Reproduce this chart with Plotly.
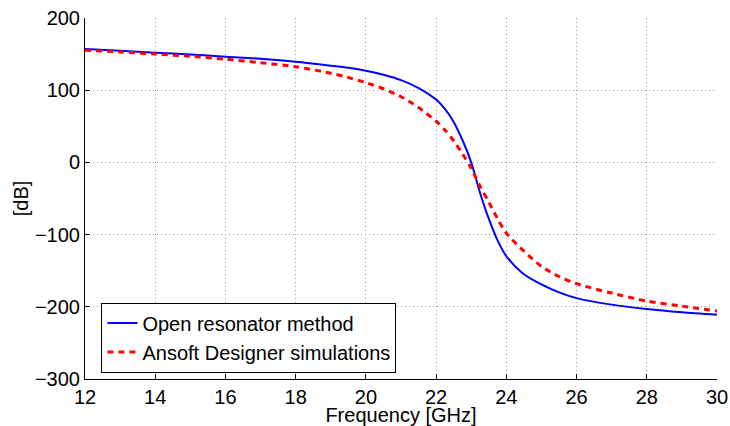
import plotly.graph_objects as go

freq = [12, 13, 14, 15, 16, 17, 18, 19, 19.5, 20, 20.5, 21, 21.5, 22, 22.25, 22.5,
        22.75, 23, 23.25, 23.5, 23.75, 24, 24.5, 25, 25.5, 26, 27, 28, 29, 30]
open_resonator = [157, 154.5, 152, 149.5, 146.5, 143.5, 139.5, 134, 131, 127, 121.5, 114, 103, 87, 74, 56,
                  31, 0, -42, -78, -108, -130, -155, -169, -180, -188, -197, -203, -207.5, -211]
ansoft = [155.5, 153, 150, 147, 143, 138, 132.5, 123.5, 117.5, 110.5, 102, 91, 76, 57, 45, 30,
          12, -8, -33, -55, -78, -98, -123, -144, -158, -168, -181, -192, -199, -206]

x_ticks = [12, 14, 16, 18, 20, 22, 24, 26, 28, 30]
y_ticks = [-300, -200, -100, 0, 100, 200]

font = "Liberation Sans, Arial, Helvetica, sans-serif"

fig = go.Figure()
fig.add_trace(go.Scatter(x=freq, y=open_resonator, mode="lines", name="Open resonator method",
                         line=dict(color="#0000ff", width=2, shape="spline", smoothing=0.8)))
fig.add_trace(go.Scatter(x=freq, y=ansoft, mode="lines", name="Ansoft Designer simulations",
                         line=dict(color="#ff0000", width=3, dash="6px,5px", shape="spline", smoothing=0.8)))

fig.update_layout(
    width=730, height=426,
    margin=dict(l=85, r=13, t=18, b=47),
    paper_bgcolor="white", plot_bgcolor="white",
    font=dict(family=font, size=20, color="black"),
    showlegend=True,
    legend=dict(x=0.026, y=0.018, xanchor="left", yanchor="bottom",
                bordercolor="black", borderwidth=1, bgcolor="white",
                font=dict(size=20), itemwidth=30, tracegroupgap=0),
)
fig.update_xaxes(range=[12, 30], tickvals=x_ticks, showline=True, linecolor="black", linewidth=1,
                 ticks="inside", ticklen=5, tickcolor="black", mirror=False, automargin=False,
                 ticklabeloverflow="allow",
                 showgrid=True, gridcolor="#999999", griddash="1px,3px", gridwidth=1, zeroline=False,
                 title=dict(text="Frequency [GHz]", standoff=2, font=dict(size=20)))
fig.update_yaxes(range=[-300, 200], tickvals=y_ticks, showline=True, linecolor="black", linewidth=1,
                 ticks="inside", ticklen=5, tickcolor="black", mirror=False, automargin=False,
                 ticklabeloverflow="allow",
                 showgrid=True, gridcolor="#999999", griddash="1px,3px", gridwidth=1, zeroline=False,
                 title=dict(text="[dB]", standoff=0, font=dict(size=20)))

fig.write_html("out.html", config={"displayModeBar": False},
               post_script="document.body.style.margin='0';document.body.style.overflow='hidden';")
